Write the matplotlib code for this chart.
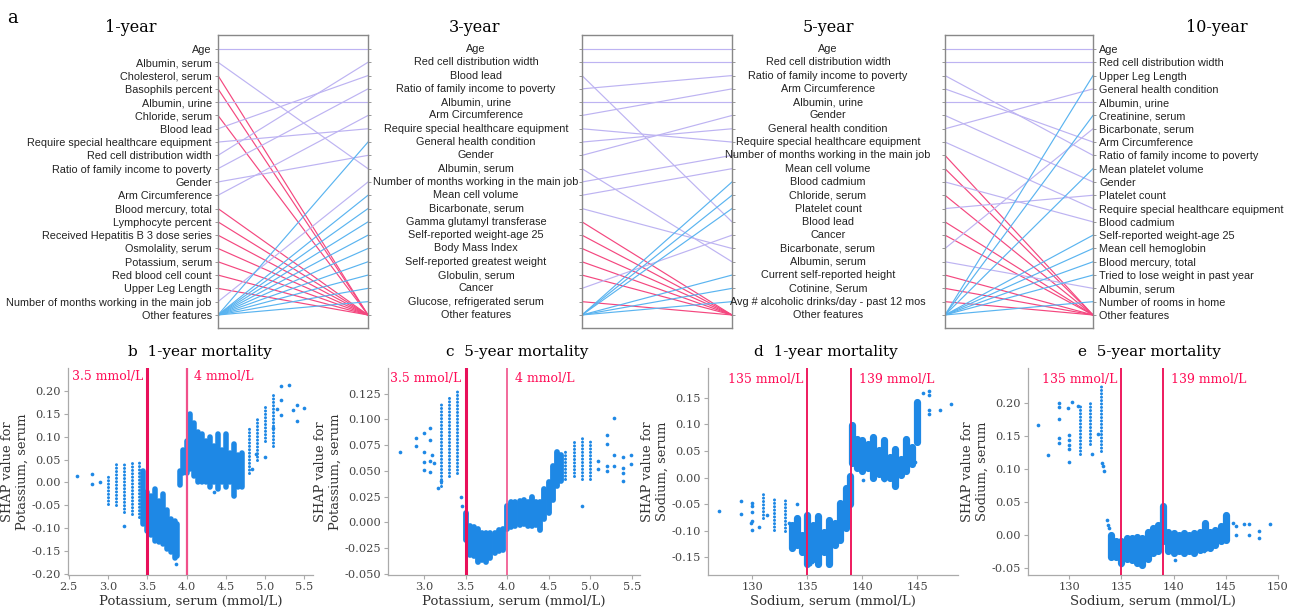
import numpy as np
import matplotlib
matplotlib.use('Agg')
import matplotlib.pyplot as plt
import matplotlib.transforms as mtransforms

plt.rcParams['axes.unicode_minus'] = False

# ---- top row: feature rankings ----
one_year = ['Age', 'Albumin, serum', 'Cholesterol, serum', 'Basophils percent', 'Albumin, urine',
            'Chloride, serum', 'Blood lead', 'Require special healthcare equipment',
            'Red cell distribution width', 'Ratio of family income to poverty', 'Gender',
            'Arm Circumference', 'Blood mercury, total', 'Lymphocyte percent',
            'Received Hepatitis B 3 dose series', 'Osmolality, serum', 'Potassium, serum',
            'Red blood cell count', 'Upper Leg Length', 'Number of months working in the main job',
            'Other features']
three_year = ['Age', 'Red cell distribution width', 'Blood lead', 'Ratio of family income to poverty',
              'Albumin, urine', 'Arm Circumference', 'Require special healthcare equipment',
              'General health condition', 'Gender', 'Albumin, serum',
              'Number of months working in the main job', 'Mean cell volume', 'Bicarbonate, serum',
              'Gamma glutamyl transferase', 'Self-reported weight-age 25', 'Body Mass Index',
              'Self-reported greatest weight', 'Globulin, serum', 'Cancer',
              'Glucose, refrigerated serum', 'Other features']
five_year = ['Age', 'Red cell distribution width', 'Ratio of family income to poverty',
             'Arm Circumference', 'Albumin, urine', 'Gender', 'General health condition',
             'Require special healthcare equipment', 'Number of months working in the main job',
             'Mean cell volume', 'Blood cadmium', 'Chloride, serum', 'Platelet count', 'Blood lead',
             'Cancer', 'Bicarbonate, serum', 'Albumin, serum', 'Current self-reported height',
             'Cotinine, Serum', 'Avg # alcoholic drinks/day - past 12 mos', 'Other features']
ten_year = ['Age', 'Red cell distribution width', 'Upper Leg Length', 'General health condition',
            'Albumin, urine', 'Creatinine, serum', 'Bicarbonate, serum', 'Arm Circumference',
            'Ratio of family income to poverty', 'Mean platelet volume', 'Gender', 'Platelet count',
            'Require special healthcare equipment', 'Blood cadmium', 'Self-reported weight-age 25',
            'Mean cell hemoglobin', 'Blood mercury, total', 'Tried to lose weight in past year',
            'Albumin, serum', 'Number of rooms in home', 'Other features']

# ---- bottom row: SHAP dependence (dense columns, sparse columns, single points) ----
b_dense_x = [3.45, 3.5, 3.55, 3.6, 3.65, 3.7, 3.75, 3.8, 3.85, 3.88, 3.92, 3.95, 4.0, 4.05, 4.1,
             4.15, 4.2, 4.25, 4.3, 4.35, 4.4, 4.45, 4.5, 4.55, 4.6, 4.65, 4.7]
b_dense_lo = [-0.09, -0.105, -0.115, -0.127, -0.13, -0.135, -0.145, -0.152, -0.165, -0.16, -0.005,
              0.02, 0.02, 0.03, 0.015, 0.0, 0.0, 0.0, -0.01, 0.0, -0.015, 0.0, -0.01, 0.0, -0.03,
              -0.01, -0.01]
b_dense_hi = [0.025, -0.02, -0.03, -0.015, -0.04, -0.025, -0.06, -0.08, -0.085, -0.09, 0.025, 0.07,
              0.09, 0.15, 0.13, 0.11, 0.105, 0.09, 0.10, 0.08, 0.105, 0.07, 0.105, 0.065, 0.085,
              0.06, 0.065]
b_sparse_x = [3.0, 3.1, 3.2, 3.3, 3.4, 4.8, 4.9, 5.0, 5.1]
b_sparse_lo = [-0.048, -0.05, -0.065, -0.068, -0.075, 0.02, 0.05, 0.09, 0.08]
b_sparse_hi = [0.015, 0.042, 0.044, 0.045, 0.048, 0.12, 0.14, 0.17, 0.19]
b_pt_x = [2.6, 2.8, 2.8, 2.9, 3.2, 3.87, 5.2, 5.3, 5.2, 5.4, 5.5, 5.4, 5.35, 5.2, 5.0, 4.88, 4.83,
          4.35, 4.6, 5.1, 5.15]
b_pt_y = [0.015, 0.018, -0.003, 0.0, -0.095, -0.178, 0.21, 0.213, 0.181, 0.17, 0.162, 0.134, 0.158,
          0.147, 0.055, 0.062, 0.03, -0.02, -0.03, 0.12, 0.16]

c_dense_x = [3.5, 3.55, 3.6, 3.65, 3.7, 3.75, 3.8, 3.85, 3.9, 3.95, 4.0, 4.05, 4.1, 4.15, 4.2, 4.25,
             4.3, 4.35, 4.4, 4.45, 4.5, 4.55, 4.6, 4.65]
c_dense_lo = [-0.017, -0.032, -0.033, -0.039, -0.037, -0.039, -0.035, -0.03, -0.028, -0.027, -0.007,
              -0.005, -0.004, -0.003, -0.002, -0.004, -0.004, -0.003, -0.008, 0.003, 0.009, 0.022,
              0.035, 0.04]
c_dense_hi = [0.009, -0.004, -0.005, -0.007, -0.01, -0.01, -0.01, -0.01, -0.008, -0.007, 0.016,
              0.02, 0.02, 0.021, 0.022, 0.02, 0.025, 0.02, 0.02, 0.032, 0.039, 0.055, 0.068, 0.065]
c_sparse_x = [3.2, 3.3, 3.4, 4.7, 4.8, 4.9, 5.0]
c_sparse_lo = [0.035, 0.045, 0.048, 0.042, 0.045, 0.042, 0.042]
c_sparse_hi = [0.116, 0.122, 0.13, 0.071, 0.078, 0.085, 0.08]
c_pt_x = [2.71, 2.9, 2.9, 3.0, 3.0, 3.0, 3.0, 3.07, 3.07, 3.07, 3.07, 3.1, 3.12, 3.17, 3.2, 3.45,
          3.46, 4.9, 5.29, 5.09, 5.09, 5.2, 5.2, 5.2, 5.2, 5.39, 5.39, 5.39, 5.39, 5.49, 5.49, 5.29,
          5.29]
c_pt_y = [0.068, 0.082, 0.074, 0.087, 0.068, 0.059, 0.051, 0.092, 0.08, 0.06, 0.049, 0.065, 0.058,
          0.033, 0.04, 0.025, 0.016, 0.016, 0.101, 0.06, 0.052, 0.085, 0.076, 0.055, 0.05, 0.063,
          0.053, 0.048, 0.04, 0.065, 0.057, 0.065, 0.055]

d_dense_x = [133.6, 134.1, 134.5, 135, 135.5, 136, 136.5, 137, 137.5, 138, 138.5, 138.9, 139.1,
             139.5, 140, 140.5, 141, 141.5, 142, 142.5, 143, 143.5, 144, 144.5, 145]
d_dense_lo = [-0.133, -0.127, -0.14, -0.162, -0.152, -0.162, -0.14, -0.162, -0.127, -0.117, -0.095,
              -0.05, 0.028, 0.019, 0.013, 0.019, 0.0, 0.006, 0.0, 0.0, -0.016, 0.005, 0.013, 0.025,
              0.067]
d_dense_hi = [-0.089, -0.076, -0.108, -0.07, -0.089, -0.073, -0.102, -0.08, -0.086, -0.048, -0.019,
              0.003, 0.098, 0.073, 0.07, 0.063, 0.076, 0.051, 0.07, 0.038, 0.054, 0.035, 0.073,
              0.057, 0.143]
d_sparse_x = [131, 132, 133]
d_sparse_lo = [-0.076, -0.098, -0.1]
d_sparse_hi = [-0.031, -0.04, -0.041]
d_pt_x = [127, 129, 129, 130, 130, 130, 130, 130, 129.9, 130.6, 131.3, 133.3, 134.1, 135.2, 135.4,
          146.1, 146.1, 146.1, 146.1, 145.5, 147.05, 148.1, 144.8, 140.1, 142.0]
d_pt_y = [-0.063, -0.043, -0.068, -0.048, -0.054, -0.064, -0.081, -0.098, -0.086, -0.092, -0.07,
          -0.085, -0.049, -0.162, -0.158, 0.162, 0.155, 0.127, 0.12, 0.159, 0.127, 0.138, 0.03,
          -0.005, -0.005]

e_dense_x = [134, 134.5, 135, 135.5, 136, 136.5, 137, 137.5, 138, 138.5, 139, 139.5, 140, 140.5,
             141, 141.5, 142, 142.5, 143, 143.5, 144, 144.5, 145]
e_dense_lo = [-0.033, -0.033, -0.043, -0.036, -0.038, -0.043, -0.046, -0.036, -0.028, -0.025, -0.01,
              -0.025, -0.028, -0.025, -0.028, -0.025, -0.028, -0.023, -0.02, -0.02, -0.015, -0.01,
              -0.007]
e_dense_hi = [0.0, -0.01, -0.01, -0.005, -0.005, -0.003, -0.005, 0.005, 0.01, 0.015, 0.044, 0.005,
              0.003, 0.0, 0.003, 0.0, 0.003, 0.005, 0.018, 0.005, 0.008, 0.013, 0.031]
e_sparse_x = [131, 132, 133]
e_sparse_lo = [0.123, 0.139, 0.128]
e_sparse_hi = [0.198, 0.203, 0.226]
e_pt_x = [127, 128, 129, 129, 129, 129, 129, 129.9, 130, 130, 130, 130, 130, 130.3, 130.8, 132.75,
          132.2, 133.1, 133.2, 133.3, 133.6, 133.7, 133.8, 135, 140.1, 142.9, 145.7, 146, 146, 146.7,
          147.2, 147.2, 148.2, 148.2, 149.2]
e_pt_y = [0.168, 0.122, 0.2, 0.195, 0.176, 0.148, 0.14, 0.193, 0.152, 0.145, 0.137, 0.13, 0.111,
          0.203, 0.196, 0.154, 0.123, 0.11, 0.105, 0.098, 0.022, 0.015, 0.01, -0.046, -0.038, -0.025,
          0.018, 0.013, 0.0, 0.017, 0.016, 0.0, 0.006, -0.004, 0.017]

PURPLE = '#bdb3f2'
RED = '#f4477f'
BLUE = '#5ab4f0'
DOT = '#1e88e5'
LINE_RED = '#ff0d57'
SANS = 'Liberation Sans'
SERIF = 'DejaVu Serif'

W, H = 1290, 612
fig = plt.figure(figsize=(W / 100, H / 100), dpi=100)


def fx(px):
    return px / W


def fy(py):
    return 1 - py / H


def rank_axes(left_px, width_px):
    ax = fig.add_axes([fx(left_px), fy(328), width_px / W, (328 - 35) / H])
    ax.set_xlim(0, 1)
    ax.set_ylim(20.98, -1.05)
    ax.set_xticks([])
    ax.set_yticks(range(21))
    ax.yaxis.set_ticks_position('both')
    ax.tick_params(axis='y', length=2.5, width=0.6, color='#888888', labelsize=7.8,
                   labelleft=False, labelright=False, pad=2)
    for s in ax.spines.values():
        s.set_color('#888888')
        s.set_linewidth(1.0)
    return ax


def draw_links(ax, left, right):
    other = len(right) - 1
    for i, name in enumerate(left):
        if name == 'Other features':
            continue
        if name in right:
            ax.plot([0, 1], [i, right.index(name)], color=PURPLE, lw=0.85)
        else:
            ax.plot([0, 1], [i, other], color=RED, lw=0.85)
    for j, name in enumerate(right):
        if name not in left and name != 'Other features':
            ax.plot([0, 1], [len(left) - 1, j], color=BLUE, lw=0.85)


ax1 = rank_axes(218, 150)
draw_links(ax1, one_year, three_year)
ax1.set_yticklabels(one_year, fontfamily=SANS, color='#222222')
ax1.tick_params(axis='y', labelleft=True)

ax2 = rank_axes(582, 150)
draw_links(ax2, three_year, five_year)

ax3 = rank_axes(945, 148)
draw_links(ax3, five_year, ten_year)
ax3.set_yticklabels(ten_year, fontfamily=SANS, color='#222222')
ax3.tick_params(axis='y', labelright=True)

tr2 = mtransforms.blended_transform_factory(fig.transFigure, ax2.transData)
for i, name in enumerate(three_year):
    ax2.text(fx(476), i, name, transform=tr2, ha='center', va='center', fontsize=7.8,
             fontfamily=SANS, color='#222222')
tr3 = mtransforms.blended_transform_factory(fig.transFigure, ax3.transData)
for i, name in enumerate(five_year):
    ax3.text(fx(828), i, name, transform=tr3, ha='center', va='center', fontsize=7.8,
             fontfamily=SANS, color='#222222')

fig.text(fx(12), fy(18), 'a', fontsize=13, fontfamily=SERIF, ha='center', va='center')
for label, px in [('1-year', 131), ('3-year', 475), ('5-year', 828), ('10-year', 1217)]:
    fig.text(fx(px), fy(27), label, fontsize=11.5, fontfamily=SERIF, ha='center', va='center')


def shap_axes(left_px, right_px, xlim, ylim, xticks, yticks):
    ax = fig.add_axes([fx(left_px), fy(575), (right_px - left_px) / W, (575 - 368) / H])
    ax.set_xlim(*xlim)
    ax.set_ylim(*ylim)
    ax.set_xticks(xticks)
    ax.set_yticks(yticks)
    for s in ['top', 'right']:
        ax.spines[s].set_visible(False)
    for s in ['left', 'bottom']:
        ax.spines[s].set_color('#aaaaaa')
        ax.spines[s].set_linewidth(0.9)
    ax.tick_params(length=3, width=0.8, color='#aaaaaa', labelsize=8.2, labelcolor='#444444', pad=2)
    for t in ax.get_xticklabels() + ax.get_yticklabels():
        t.set_fontfamily(SERIF)
    return ax


def draw_shap(ax, dx, dlo, dhi, sx, slo, shi, px, py, lw_dense):
    ax.vlines(dx, dlo, dhi, color=DOT, lw=lw_dense, capstyle='round', zorder=2)
    ax.vlines(sx, slo, shi, color=DOT, lw=2.2, linestyles=[(0, (0.01, 1.1))], capstyle='round',
              zorder=2)
    ax.scatter(px, py, s=7, color=DOT, lw=0, zorder=2)


def cutoffs(ax, xs, widths, colors, labels, y_text):
    for x, w, c in zip(xs, widths, colors):
        ax.axvline(x, color=c, lw=w, zorder=3)
    span = ax.get_xlim()[1] - ax.get_xlim()[0]
    ax.text(xs[0] - span * 0.015, y_text, labels[0], ha='right', va='center', color=LINE_RED,
            fontsize=9, fontfamily=SERIF)
    ax.text(xs[1] + span * 0.03, y_text, labels[1], ha='left', va='center', color=LINE_RED,
            fontsize=9, fontfamily=SERIF)


def labels(ax, xlabel, ylabel, title, title_px):
    ax.set_xlabel(xlabel, fontfamily=SERIF, fontsize=9.5, color='#333333', labelpad=2)
    ax.set_ylabel(ylabel, fontfamily=SERIF, fontsize=9.4, color='#333333', labelpad=2)
    fig.text(fx(title_px), fy(352), title, fontfamily=SERIF, fontsize=11, ha='center', va='center')


axb = shap_axes(68, 313, (2.49, 5.61), (-0.202, 0.25), [2.5, 3.0, 3.5, 4.0, 4.5, 5.0, 5.5],
                np.arange(-0.2, 0.21, 0.05))
draw_shap(axb, b_dense_x, b_dense_lo, b_dense_hi, b_sparse_x, b_sparse_lo, b_sparse_hi,
          b_pt_x, b_pt_y, 4.0)
cutoffs(axb, [3.5, 4.0], [2.2, 1.6], ['#e8105a', '#f0508a'], ['3.5 mmol/L', '4 mmol/L'], 0.232)
labels(axb, 'Potassium, serum (mmol/L)', 'SHAP value for\nPotassium, serum', 'b  1-year mortality',
       200)

axc = shap_axes(388, 640, (2.567, 5.6), (-0.0513, 0.150), [3.0, 3.5, 4.0, 4.5, 5.0, 5.5],
                np.arange(-0.05, 0.126, 0.025))
draw_shap(axc, c_dense_x, c_dense_lo, c_dense_hi, c_sparse_x, c_sparse_lo, c_sparse_hi,
          c_pt_x, c_pt_y, 4.2)
cutoffs(axc, [3.5, 4.0], [2.2, 1.2], ['#e8105a', '#f0508a'], ['3.5 mmol/L', '4 mmol/L'], 0.140)
labels(axc, 'Potassium, serum (mmol/L)', 'SHAP value for\nPotassium, serum', 'c  5-year mortality',
       517)

axd = shap_axes(708, 958, (125.97, 148.7), (-0.183, 0.206), [130, 135, 140, 145],
                np.arange(-0.15, 0.16, 0.05))
draw_shap(axd, d_dense_x, d_dense_lo, d_dense_hi, d_sparse_x, d_sparse_lo, d_sparse_hi,
          d_pt_x, d_pt_y, 5.2)
cutoffs(axd, [135, 139], [1.4, 1.4], ['#ee1a5e', '#ee1a5e'], ['135 mmol/L', '139 mmol/L'], 0.184)
labels(axd, 'Sodium, serum (mmol/L)', 'SHAP value for\nSodium, serum', 'd  1-year mortality', 826)

axe = shap_axes(1028, 1278, (126.05, 150.0), (-0.061, 0.254), [130, 135, 140, 145, 150],
                np.arange(-0.05, 0.21, 0.05))
draw_shap(axe, e_dense_x, e_dense_lo, e_dense_hi, e_sparse_x, e_sparse_lo, e_sparse_hi,
          e_pt_x, e_pt_y, 5.2)
cutoffs(axe, [135, 139], [1.4, 1.4], ['#ee1a5e', '#ee1a5e'], ['135 mmol/L', '139 mmol/L'], 0.236)
labels(axe, 'Sodium, serum (mmol/L)', 'SHAP value for\nSodium, serum', 'e  5-year mortality', 1149)

fig.savefig('out.png', dpi=100)
